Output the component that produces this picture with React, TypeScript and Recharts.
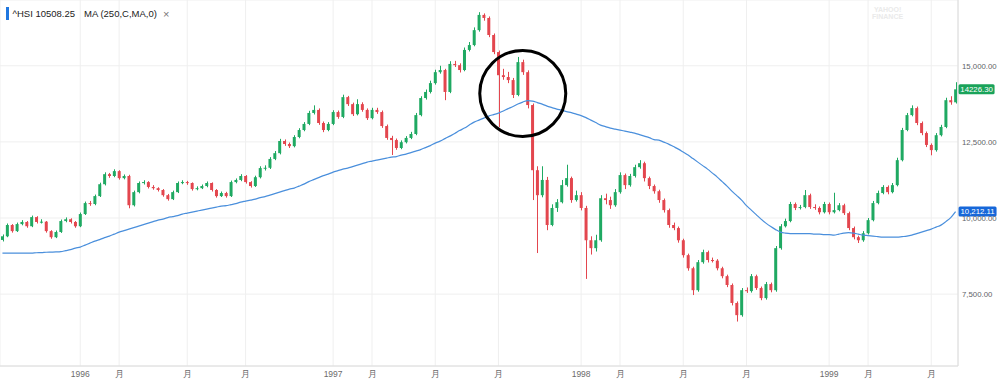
import React from 'react';
import {
  ComposedChart,
  Bar,
  Line,
  XAxis,
  YAxis,
  CartesianGrid,
  ReferenceDot,
} from 'recharts';

// weekly candles, Sep 1995 - Jun 1999
const opens = [
  9280, 9400, 9770, 9570, 9800, 9870, 9730, 10030, 9870, 9880, 9570, 9370, 9540, 9900, 9960, 9870, 9730, 10130, 10490, 10460,
  10720, 11110, 11440, 11380, 11540, 11310, 11380, 10420, 10850, 11150, 11180, 11020, 10980, 10920, 10750, 10620, 10850, 11150, 11180, 11150,
  10950, 10980, 11050, 11150, 10920, 10720, 10820, 10720, 11180, 11250, 11380, 11180, 11050, 11340, 11640, 11650, 11940, 12130, 12530, 12430,
  12360, 12660, 12890, 13090, 13450, 13550, 13120, 12890, 13090, 13480, 13320, 13970, 13740, 13410, 13740, 13550, 13280, 13550, 13480, 13020,
  12630, 12560, 12300, 12490, 12630, 12760, 13380, 13940, 14140, 14430, 14790, 14860, 14140, 15060, 15020, 14860, 15520, 15680, 16170, 16670,
  16570, 16010, 15450, 14690, 14630, 14530, 14040, 15120, 14790, 13710, 11570, 10750, 11250, 9770, 10330, 10520, 11080, 11310, 10590, 10750,
  10330, 9270, 9010, 9270, 10650, 10590, 10420, 10850, 11410, 11080, 11380, 11670, 11800, 11310, 11050, 10880, 10590, 10260, 9770, 9670,
  9270, 8780, 8350, 7630, 8550, 8880, 8620, 8600, 8350, 8090, 7800, 7210, 6810, 7630, 7600, 8090, 7700, 7370, 7830, 7630,
  9010, 9730, 9900, 10460, 10330, 10360, 10750, 10360, 10330, 10190, 10460, 10190, 10260, 10420, 10160, 9670, 9370, 9270, 9500, 9930,
  10490, 10820, 11020, 10850, 11080, 11900, 12890, 13380, 13610, 13120, 12790, 12400, 12230, 12720, 12990, 13870, 13800,
];
const highs = [
  9460, 9820, 9800, 9850, 9930, 9900, 10080, 10060, 9960, 9900, 9600, 9590, 9950, 10020, 9990, 9900, 10180, 10540, 10560, 10770,
  11160, 11500, 11480, 11600, 11570, 11430, 11420, 10900, 11200, 11240, 11210, 11080, 11010, 10950, 10790, 10900, 11200, 11240, 11220, 11170,
  11040, 11100, 11200, 11170, 10950, 10870, 10860, 11230, 11300, 11440, 11410, 11210, 11390, 11700, 11730, 12000, 12200, 12600, 12580, 12480,
  12720, 12950, 13150, 13520, 13700, 13600, 13170, 13150, 13540, 13530, 14050, 14010, 13790, 13900, 13800, 13600, 13620, 13620, 13530, 13070,
  12700, 12610, 12550, 12690, 12830, 13450, 14000, 14220, 14510, 14870, 15000, 14900, 15150, 15160, 15080, 15600, 15780, 16260, 16760, 16720,
  16620, 16060, 15500, 14900, 14800, 14600, 15290, 15200, 14850, 13760, 11700, 11700, 11350, 10450, 10620, 11250, 11750, 11360, 10900, 10850,
  10400, 9400, 9450, 10750, 10800, 10700, 10950, 11500, 11460, 11450, 11750, 11900, 11850, 11360, 11100, 10930, 10640, 10310, 9850, 9720,
  9320, 8830, 8400, 8620, 8960, 8930, 8700, 8650, 8400, 8140, 7850, 7260, 7700, 7720, 8160, 8140, 7750, 7900, 7880, 9080,
  9800, 9980, 10530, 10510, 10430, 10920, 10800, 10450, 10380, 10530, 10510, 10830, 10490, 10470, 10210, 9720, 9420, 9570, 10000, 10560,
  10900, 11080, 11070, 11150, 11980, 12960, 13450, 13700, 13660, 13170, 12840, 12450, 12790, 13060, 13950, 14000, 14460,
];
const lows = [
  9230, 9370, 9520, 9540, 9760, 9680, 9700, 9820, 9820, 9520, 9320, 9340, 9510, 9860, 9820, 9680, 9700, 10100, 10400, 10420,
  10690, 11070, 11320, 11340, 11260, 11270, 10320, 10380, 10810, 11100, 10970, 10930, 10870, 10700, 10570, 10590, 10820, 11110, 11090, 10900,
  10910, 10950, 11010, 10870, 10670, 10690, 10670, 10690, 11140, 11210, 11130, 11000, 11020, 11300, 11560, 11610, 11900, 12090, 12370, 12300,
  12320, 12620, 12850, 13050, 13400, 13060, 12820, 12850, 13050, 13260, 13280, 13680, 13350, 13370, 13490, 13220, 13240, 13420, 12960, 12570,
  12070, 12240, 12260, 12450, 12590, 12720, 13340, 13890, 14090, 14380, 14740, 13870, 14100, 14960, 14780, 14820, 15470, 15640, 16120, 16480,
  15940, 15380, 12990, 14540, 14430, 13940, 14000, 14700, 13600, 10590, 8850, 10680, 9600, 9730, 10200, 10480, 11030, 10500, 10540, 10250,
  8000, 8800, 8900, 9220, 10450, 10300, 10370, 10800, 10950, 11030, 11330, 11620, 11200, 10950, 10800, 10500, 10180, 9680, 9600, 9190,
  8700, 8270, 7470, 7580, 8500, 8540, 8540, 8280, 8020, 7730, 7130, 6600, 6760, 7540, 7550, 7640, 7300, 7320, 7560, 7580,
  8960, 9690, 9860, 10260, 10280, 10320, 10300, 10270, 10120, 10150, 10120, 10150, 10220, 10100, 9600, 9300, 9180, 9220, 9460, 9890,
  10450, 10780, 10780, 10810, 11040, 11860, 12850, 13340, 13050, 12720, 12330, 12060, 12180, 12680, 12950, 13720, 13760,
];
const closes = [
  9400, 9770, 9570, 9800, 9870, 9730, 10030, 9870, 9880, 9570, 9370, 9540, 9900, 9960, 9870, 9730, 10130, 10490, 10460, 10720,
  11110, 11440, 11380, 11540, 11310, 11380, 10420, 10850, 11150, 11180, 11020, 10980, 10920, 10750, 10620, 10850, 11150, 11180, 11150, 10950,
  10980, 11050, 11150, 10920, 10720, 10820, 10720, 11180, 11250, 11380, 11180, 11050, 11340, 11640, 11650, 11940, 12130, 12530, 12430, 12360,
  12660, 12890, 13090, 13450, 13550, 13120, 12890, 13090, 13480, 13320, 13970, 13740, 13410, 13740, 13550, 13280, 13550, 13480, 13020, 12630,
  12560, 12300, 12490, 12630, 12760, 13380, 13940, 14140, 14430, 14790, 14860, 14140, 15060, 15020, 14860, 15520, 15680, 16170, 16670, 16570,
  16010, 15450, 14690, 14630, 14530, 14040, 15120, 14790, 13710, 11570, 10750, 11250, 9770, 10330, 10520, 11080, 11310, 10590, 10750, 10330,
  9270, 9010, 9270, 10650, 10590, 10420, 10850, 11410, 11080, 11380, 11670, 11800, 11310, 11050, 10880, 10590, 10260, 9770, 9670, 9270,
  8780, 8350, 7630, 8550, 8880, 8620, 8600, 8350, 8090, 7800, 7210, 6810, 7630, 7600, 8090, 7700, 7370, 7830, 7630, 9010,
  9730, 9900, 10460, 10330, 10360, 10750, 10360, 10330, 10190, 10460, 10190, 10260, 10420, 10160, 9670, 9370, 9270, 9500, 9930, 10490,
  10820, 11020, 10850, 11080, 11900, 12890, 13380, 13610, 13120, 12790, 12400, 12230, 12720, 12990, 13870, 13800, 14226.3,
];
// MA (250,C,MA,0)
const ma250 = [
  8850, 8848, 8847, 8846, 8846, 8847, 8848, 8860, 8863, 8875, 8880, 8885, 8896, 8929, 8962, 9011, 9044, 9110, 9176, 9241,
  9291, 9356, 9405, 9471, 9537, 9586, 9635, 9685, 9734, 9783, 9832, 9882, 9931, 9964, 10014, 10046, 10079, 10128, 10161, 10194,
  10227, 10260, 10292, 10325, 10358, 10391, 10407, 10440, 10473, 10522, 10555, 10588, 10621, 10670, 10703, 10752, 10801, 10851, 10900, 10949,
  10982, 11048, 11114, 11196, 11262, 11327, 11393, 11442, 11508, 11557, 11606, 11639, 11688, 11738, 11787, 11836, 11869, 11902, 11935, 11968,
  12001, 12017, 12066, 12099, 12149, 12198, 12247, 12313, 12378, 12461, 12526, 12608, 12690, 12773, 12871, 12953, 13052, 13150, 13216, 13282,
  13347, 13397, 13446, 13512, 13594, 13660, 13742, 13807, 13857, 13840, 13791, 13742, 13676, 13626, 13577, 13545, 13495, 13462, 13413, 13364,
  13298, 13216, 13134, 13052, 13002, 12953, 12920, 12888, 12855, 12822, 12789, 12740, 12690, 12641, 12576, 12559, 12493, 12428, 12346, 12263,
  12165, 12066, 11951, 11836, 11721, 11606, 11475, 11343, 11196, 11048, 10884, 10736, 10588, 10407, 10260, 10112, 9964, 9832, 9718, 9619,
  9537, 9504, 9488, 9488, 9488, 9488, 9488, 9471, 9471, 9455, 9455, 9438, 9471, 9504, 9521, 9504, 9471, 9438, 9422, 9405,
  9389, 9373, 9373, 9373, 9373, 9389, 9405, 9438, 9488, 9537, 9586, 9635, 9701, 9767, 9882, 10014, 10212.11,
];

const tickWeeks = [16, 24, 38, 50, 68, 76, 89, 102, 119, 127, 140, 153, 170, 178, 191];
const tickLabels = ['1996', '月', '月', '月', '1997', '月', '月', '月', '1998', '月', '月', '月', '1999', '月', '月'];
const priceTicks = [7500, 10000, 12500, 15000];

const lastPrice = 14226.3;
const lastMa = 10212.11;

const GREEN = '#1fa962';
const RED = '#e3464e';

const data = closes.map((c, i) => ({
  week: i,
  open: opens[i],
  high: highs[i],
  low: lows[i],
  close: c,
  range: [lows[i], highs[i]],
  ma: ma250[i],
}));

const Candle = (props: any) => {
  const { x, y, width, height, payload } = props;
  if (!payload) return null;
  const top = Math.min(y, y + height);
  const h = Math.abs(height);
  const { open, close, high, low } = payload;
  const up = close >= open;
  const color = up ? GREEN : RED;
  const k = h / (high - low || 1);
  const yo = top + (high - open) * k;
  const yc = top + (high - close) * k;
  const cx = Math.round(x + width / 2) + 0.5;
  return (
    <g>
      <line x1={cx} x2={cx} y1={top} y2={top + h} stroke={color} strokeWidth={1} />
      <rect x={x} y={Math.min(yo, yc)} width={width} height={Math.max(1, Math.abs(yo - yc))} fill={color} />
    </g>
  );
};

const badge = (text: string, fill: string, w: number) => (p: any) => (
  <g>
    <rect x={p.cx + 3} y={p.cy - 5} width={w} height={10} rx={1.5} fill={fill} />
    <text x={p.cx + 3 + w / 2} y={p.cy + 2.8} textAnchor="middle" fontSize={7.8} fill="#fff">
      {text}
    </text>
  </g>
);

const fmtPrice = (v: number) =>
  v.toLocaleString('en-US', { minimumFractionDigits: 2, maximumFractionDigits: 2 });

export default function App() {
  return (
    <div
      style={{
        position: 'absolute',
        left: 0,
        top: 0,
        width: 1000,
        height: 384,
        background: '#fff',
        fontFamily: '"Liberation Sans", Arial, sans-serif',
      }}
    >
      <ComposedChart width={1000} height={384} data={data} margin={{ top: 0, right: 0, bottom: 0, left: 0 }}>
        <CartesianGrid stroke="#efefef" />
        <XAxis
          dataKey="week"
          type="category"
          ticks={tickWeeks}
          interval={0}
          tickFormatter={(v: number) => tickLabels[tickWeeks.indexOf(v)]}
          height={18}
          tickLine={false}
          tickSize={3}
          tickMargin={2}
          stroke="#dcdcdc"
          tick={{ fontSize: 8.5, fill: '#6b6b6b' }}
        />
        <YAxis
          orientation="right"
          width={42}
          domain={[5140, 17160]}
          ticks={priceTicks}
          allowDataOverflow
          tickFormatter={fmtPrice}
          tickLine={false}
          tickSize={2}
          tickMargin={2}
          stroke="#dcdcdc"
          tick={{ fontSize: 7.8, fill: '#5f6368' }}
        />
        <Bar dataKey="range" barSize={3} shape={Candle} isAnimationActive={false} />
        <Line
          dataKey="ma"
          type="monotone"
          stroke="#4a8fdc"
          strokeWidth={1.2}
          dot={false}
          activeDot={false}
          isAnimationActive={false}
        />
        <ReferenceDot x={107} y={14090} r={43} fill="none" stroke="#000" strokeWidth={3} />
        <ReferenceDot x={196} y={lastPrice} r={0} shape={badge(lastPrice.toFixed(2), '#1aa35a', 36)} />
        <ReferenceDot x={196} y={lastMa} r={0} shape={badge(fmtPrice(lastMa), '#1667d9', 38)} />
      </ComposedChart>
      <div
        style={{
          position: 'absolute',
          left: 6,
          top: 7,
          height: 13,
          display: 'flex',
          alignItems: 'center',
          fontSize: 9.5,
          color: '#222',
        }}
      >
        <span style={{ width: 2.5, height: 13, background: '#1f77e0', marginRight: 4 }} />
        <span>^HSI 10508.25</span>
        <span style={{ marginLeft: 9 }}>MA (250,C,MA,0)</span>
        <span style={{ marginLeft: 6, color: '#777', fontSize: 11 }}>×</span>
      </div>
      <div
        style={{
          position: 'absolute',
          left: 872,
          top: 6,
          fontSize: 7,
          lineHeight: '7px',
          color: '#eaeaea',
          textAlign: 'center',
          fontWeight: 'bold',
        }}
      >
        YAHOO!
        <br />
        FINANCE
      </div>
    </div>
  );
}
